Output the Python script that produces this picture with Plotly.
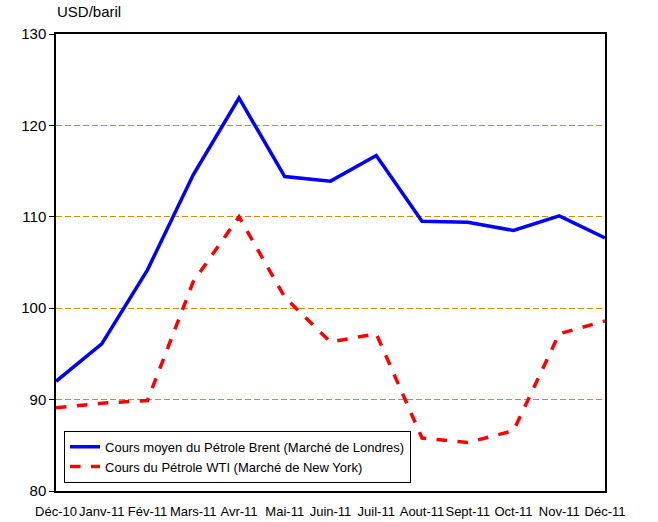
import plotly.graph_objects as go

months = ["Déc-10", "Janv-11", "Fév-11", "Mars-11", "Avr-11", "Mai-11", "Juin-11",
          "Juil-11", "Aout-11", "Sept-11", "Oct-11", "Nov-11", "Déc-11"]
brent = [92.0, 96.1, 104.2, 114.6, 123.0, 114.4, 113.9, 116.7, 109.5, 109.4, 108.5, 110.1, 107.7]
wti = [89.1, 89.6, 89.9, 102.9, 110.0, 101.2, 96.3, 97.2, 85.8, 85.3, 86.6, 97.2, 98.6]

fig = go.Figure()
fig.add_trace(go.Scatter(x=months, y=brent, mode="lines",
                         name="Cours moyen du Pétrole Brent (Marché de Londres)",
                         line=dict(color="#0000FF", width=3.5)))
fig.add_trace(go.Scatter(x=months, y=wti, mode="lines",
                         name="Cours du Pétrole WTI (Marché de New York)",
                         line=dict(color="#FF0000", width=3.5, dash="dash")))

fig.update_layout(
    width=658, height=522,
    margin=dict(l=56, r=53, t=34, b=31, autoexpand=False),
    paper_bgcolor="white", plot_bgcolor="white",
    font=dict(family="Liberation Sans, Arial, sans-serif", size=14, color="black"),
    showlegend=True,
    legend=dict(x=0.0146, y=0.018, xanchor="left", yanchor="bottom",
                bordercolor="black", borderwidth=1, bgcolor="white",
                font=dict(size=13), tracegroupgap=0),
    xaxis=dict(type="category", range=[0, 12], showgrid=False, zeroline=False,
               showline=True, linecolor="black", linewidth=1.5, mirror=True,
               ticks="", tickangle=0, automargin=False, ticklabelstandoff=8,
               tickfont=dict(size=13)),
    yaxis=dict(range=[80, 130], tickvals=[80, 90, 100, 110, 120, 130],
               showgrid=True, gridcolor="#E08A00", griddash="6px,3px", gridwidth=1.2,
               zeroline=False, showline=True, linecolor="black", linewidth=1.5,
               mirror=True, ticks="outside", ticklen=5, tickcolor="black",
               automargin=False, tickfont=dict(size=15)),
    annotations=[dict(text="USD/baril", x=-0.002, y=1.0, xref="paper", yref="paper",
                      xanchor="left", yanchor="bottom", yshift=12, showarrow=False,
                      font=dict(size=15))],
)
fig.write_html("out.html", config={"displayModeBar": False},
               post_script="document.body.style.margin='0';document.body.style.padding='0';")
